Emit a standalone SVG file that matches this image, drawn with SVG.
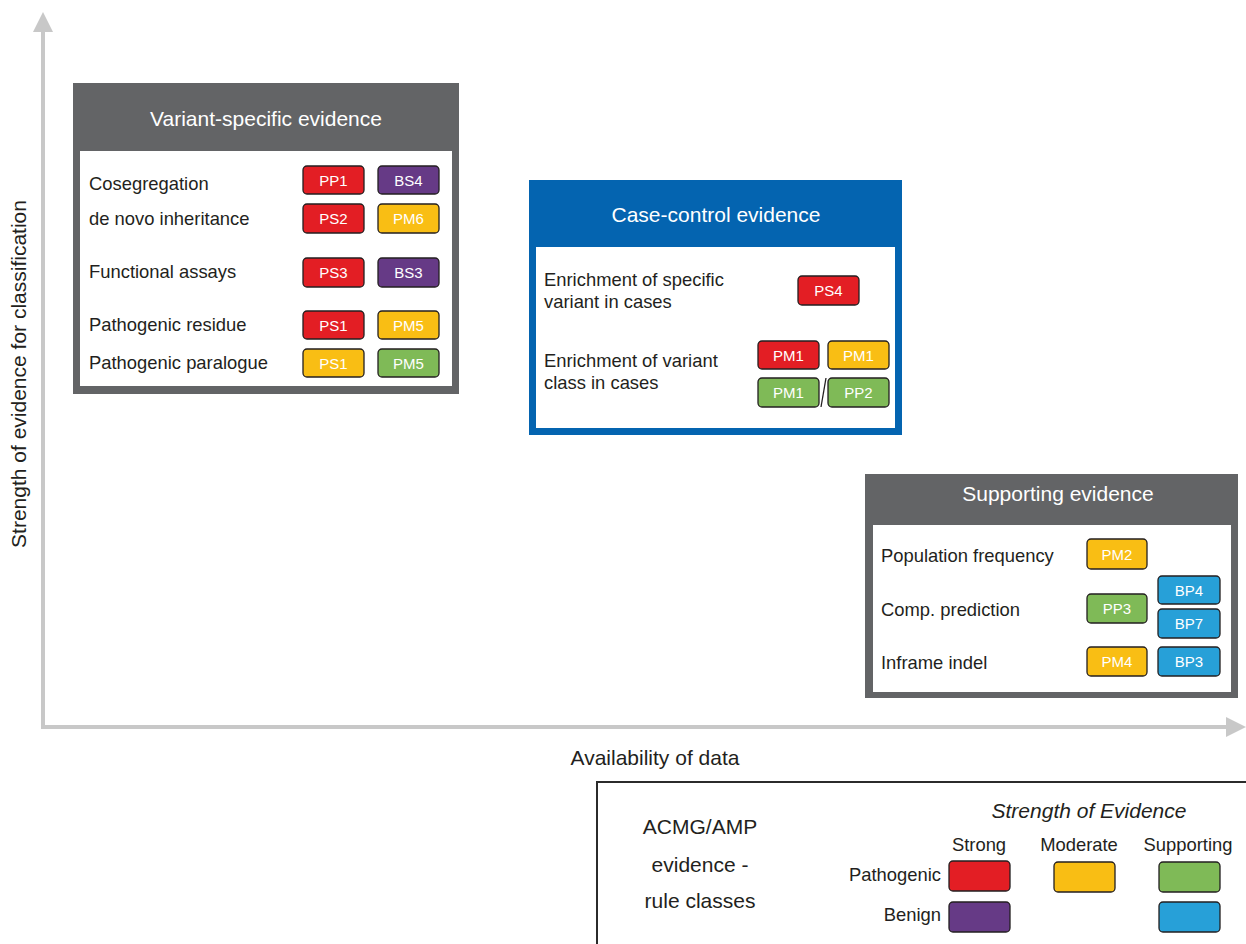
<svg xmlns="http://www.w3.org/2000/svg" width="1246" height="944" viewBox="0 0 1246 944">
<style>
text{font-family:"Liberation Sans",Arial,sans-serif}
.lbl{font-size:18.4px;fill:#231f20}
.ax-t{font-size:21px;fill:#231f20;text-anchor:middle}
.ttl{font-size:21px;fill:#fff;text-anchor:middle}
.bt{font-size:15px;fill:#fff;text-anchor:middle}
.b{stroke:#231f20;stroke-width:1.3}
.r{fill:#e31e24}.p{fill:#663a86}.y{fill:#f9be14}.g{fill:#7fba57}.c{fill:#27a0d8}
.ax{stroke:#c8c8c8;stroke-width:4;fill:none}
.lg{font-size:21px;fill:#231f20;text-anchor:middle}
.ls{font-size:18.4px;fill:#231f20}
</style>
<defs>
<marker id="ah" markerWidth="5" markerHeight="5" refX="2.5" refY="2.5" orient="auto" markerUnits="strokeWidth" viewBox="0 0 5 5">
<path d="M0,0 L5,2.5 L0,5 Z" fill="#c8c8c8"/>
</marker>
</defs>
<g id="axes">
<line class="ax" x1="43" y1="729" x2="43" y2="22" marker-end="url(#ah)"/>
<line class="ax" x1="41" y1="727" x2="1236" y2="727" marker-end="url(#ah)"/>
<text x="26" y="374" transform="rotate(-90 26 374)" class="ax-t">Strength of evidence for classification</text>
<text x="655" y="765" class="ax-t">Availability of data</text>
</g>
<g id="variant-specific">
<rect x="73" y="83" width="386" height="311" fill="#636466"/>
<rect x="80" y="151" width="372" height="235" fill="#fff"/>
<text x="266" y="126" class="ttl">Variant-specific evidence</text>
<text x="89" y="190" class="lbl">Cosegregation</text>
<text x="89" y="225" class="lbl">de novo inheritance</text>
<text x="89" y="278" class="lbl">Functional assays</text>
<text x="89" y="331" class="lbl">Pathogenic residue</text>
<text x="89" y="369" class="lbl">Pathogenic paralogue</text>
<rect class="b r" x="303" y="166" width="61" height="28" rx="4"/><text class="bt" x="333.5" y="185.5">PP1</text>
<rect class="b p" x="378" y="166" width="61" height="28" rx="4"/><text class="bt" x="408.5" y="185.5">BS4</text>
<rect class="b r" x="303" y="204" width="61" height="29" rx="4"/><text class="bt" x="333.5" y="224">PS2</text>
<rect class="b y" x="378" y="204" width="61" height="29" rx="4"/><text class="bt" x="408.5" y="224">PM6</text>
<rect class="b r" x="303" y="258" width="61" height="29" rx="4"/><text class="bt" x="333.5" y="278">PS3</text>
<rect class="b p" x="378" y="258" width="61" height="29" rx="4"/><text class="bt" x="408.5" y="278">BS3</text>
<rect class="b r" x="303" y="311" width="61" height="28" rx="4"/><text class="bt" x="333.5" y="330.5">PS1</text>
<rect class="b y" x="378" y="311" width="61" height="28" rx="4"/><text class="bt" x="408.5" y="330.5">PM5</text>
<rect class="b y" x="303" y="349" width="61" height="28" rx="4"/><text class="bt" x="333.5" y="368.5">PS1</text>
<rect class="b g" x="378" y="349" width="61" height="28" rx="4"/><text class="bt" x="408.5" y="368.5">PM5</text>
</g>
<g id="case-control">
<rect x="529" y="180" width="373" height="255" fill="#0464b0"/>
<rect x="536" y="247" width="359" height="181" fill="#fff"/>
<text x="716" y="222" class="ttl">Case-control evidence</text>
<text x="544" y="286" class="lbl">Enrichment of specific</text>
<text x="544" y="308" class="lbl">variant in cases</text>
<text x="544" y="367" class="lbl">Enrichment of variant</text>
<text x="544" y="389" class="lbl">class in cases</text>
<rect class="b r" x="798" y="276" width="61" height="29" rx="4"/><text class="bt" x="828.5" y="296">PS4</text>
<rect class="b r" x="758" y="341" width="61" height="28" rx="4"/><text class="bt" x="788.5" y="360.5">PM1</text>
<rect class="b y" x="828" y="341" width="61" height="28" rx="4"/><text class="bt" x="858.5" y="360.5">PM1</text>
<rect class="b g" x="758" y="378" width="61" height="29" rx="4"/><text class="bt" x="788.5" y="398">PM1</text>
<rect class="b g" x="828" y="378" width="61" height="29" rx="4"/><text class="bt" x="858.5" y="398">PP2</text>
<line x1="826" y1="378" x2="821" y2="407" stroke="#231f20" stroke-width="1.3"/>
</g>
<g id="supporting">
<rect x="865" y="474" width="373" height="224" fill="#636466"/>
<rect x="873" y="525" width="358" height="167" fill="#fff"/>
<text x="1058" y="501" class="ttl">Supporting evidence</text>
<text x="881" y="562" class="lbl">Population frequency</text>
<text x="881" y="616" class="lbl">Comp. prediction</text>
<text x="881" y="669" class="lbl">Inframe indel</text>
<rect class="b y" x="1087" y="539" width="60" height="30" rx="4"/><text class="bt" x="1117" y="559.5">PM2</text>
<rect class="b c" x="1158" y="576" width="62" height="28" rx="4"/><text class="bt" x="1189" y="595.5">BP4</text>
<rect class="b g" x="1087" y="594" width="60" height="29" rx="4"/><text class="bt" x="1117" y="614">PP3</text>
<rect class="b c" x="1158" y="609" width="62" height="29" rx="4"/><text class="bt" x="1189" y="629">BP7</text>
<rect class="b y" x="1087" y="647" width="60" height="29" rx="4"/><text class="bt" x="1117" y="667">PM4</text>
<rect class="b c" x="1158" y="647" width="62" height="29" rx="4"/><text class="bt" x="1189" y="667">BP3</text>
</g>
<g id="legend">
<rect x="597" y="782" width="660" height="180" fill="#fff" stroke="#2b2b2b" stroke-width="2"/>
<text x="700" y="834" class="lg">ACMG/AMP</text>
<text x="700" y="872" class="lg">evidence -</text>
<text x="700" y="908" class="lg">rule classes</text>
<text x="1089" y="818" class="lg" font-style="italic">Strength of Evidence</text>
<text x="979" y="851" class="ls" text-anchor="middle">Strong</text>
<text x="1079" y="851" class="ls" text-anchor="middle">Moderate</text>
<text x="1188" y="851" class="ls" text-anchor="middle">Supporting</text>
<text x="941" y="881" class="ls" text-anchor="end">Pathogenic</text>
<text x="941" y="921" class="ls" text-anchor="end">Benign</text>
<rect class="b r" x="949" y="861" width="61" height="30" rx="4"/>
<rect class="b y" x="1054" y="862" width="61" height="30" rx="4"/>
<rect class="b g" x="1159" y="862" width="61" height="30" rx="4"/>
<rect class="b p" x="949" y="902" width="61" height="30" rx="4"/>
<rect class="b c" x="1159" y="902" width="61" height="30" rx="4"/>
</g>
</svg>
